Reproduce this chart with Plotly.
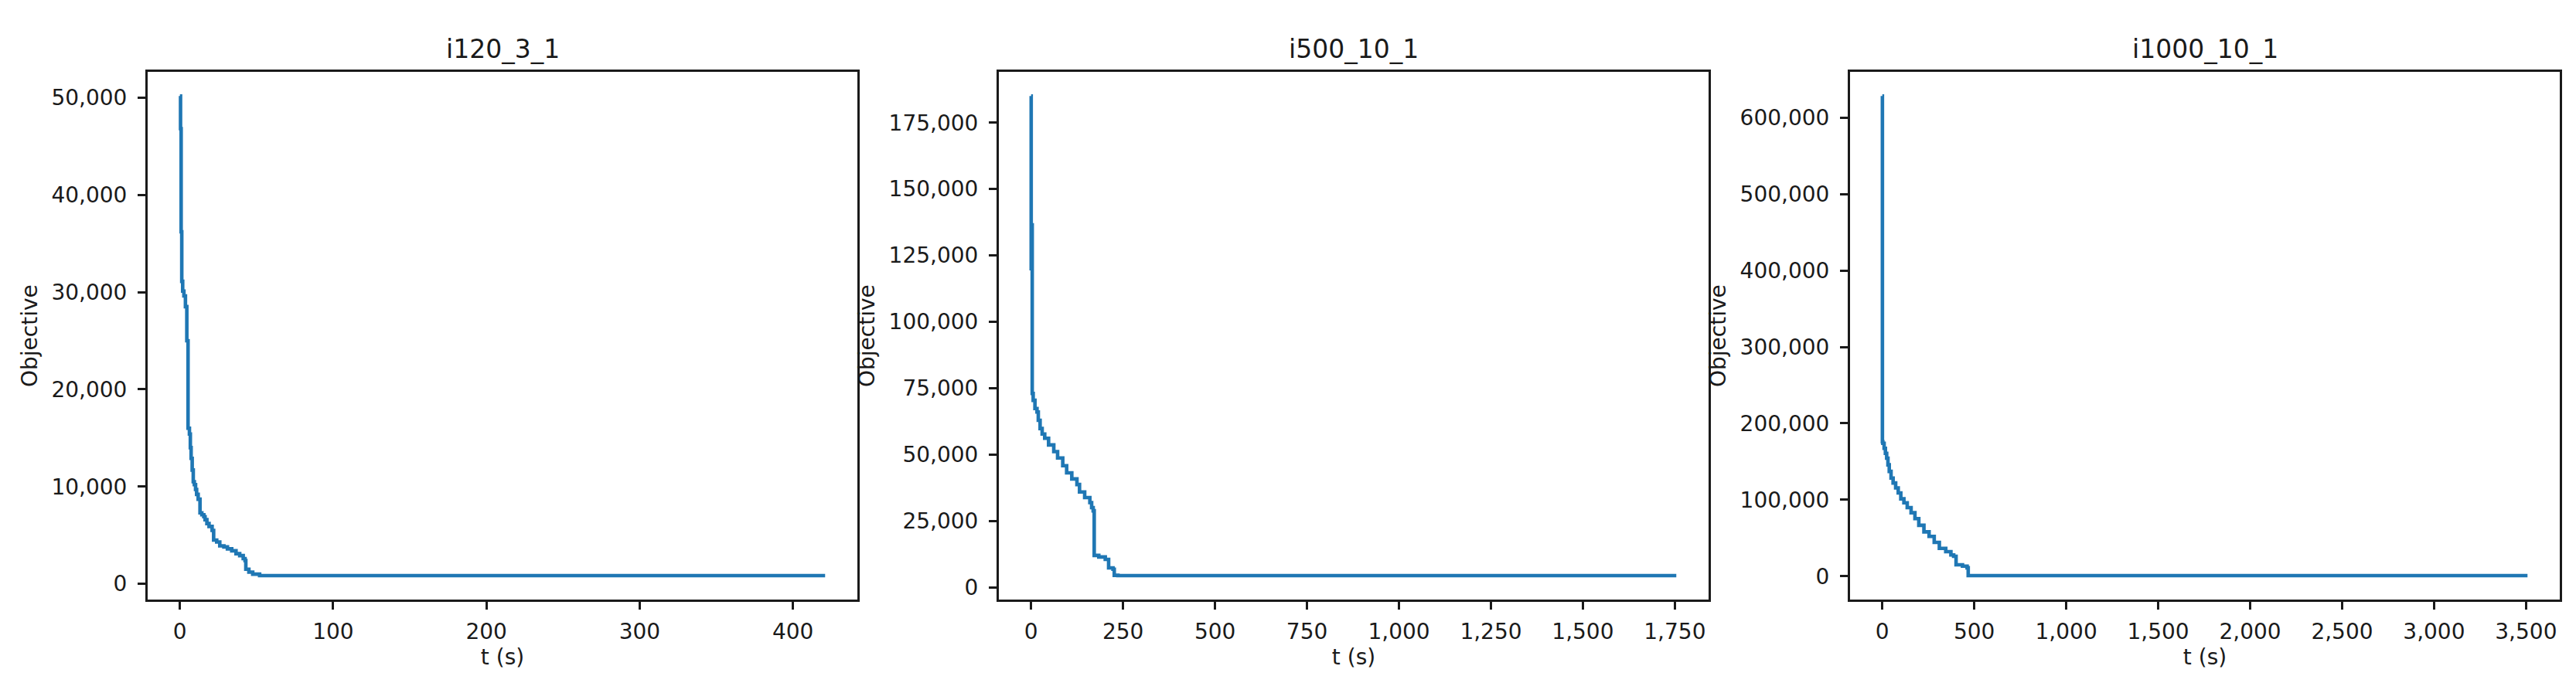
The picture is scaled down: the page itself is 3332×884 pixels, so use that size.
import plotly.graph_objects as go

# i120_3_1: time (s) at which the objective improves, and the new value
t_i120 = [0, 0.4, 0.8, 1.2, 1.8, 2.6, 3.6, 4.5, 5.3, 6.2, 6.8, 7.3, 8.0, 8.7, 9.4,
          10.2, 10.9, 11.9, 13.1, 14.3, 15.6, 16.4, 17.6, 19.0, 21.0, 22.0, 24.0,
          26.0, 28.7, 31.0, 33.8, 36.6, 39.0, 41.3, 42.5, 43.0, 45.0, 47.5, 52.0, 421]
obj_i120 = [50150, 46800, 36200, 31100, 30100, 29600, 28500, 25000, 16000, 15400,
            14000, 12900, 11700, 10500, 10200, 9700, 9200, 8700, 7300, 7100, 6900,
            6600, 6200, 5900, 5500, 4500, 4300, 3900, 3800, 3600, 3400, 3100, 2900,
            2600, 2400, 1500, 1200, 1000, 850, 850]

# i500_10_1
t_i500 = [0, 0.2, 2.5, 3, 5.6, 10.4, 16, 19.5, 24.4, 30, 37, 47.5, 61.6, 72, 86,
          96.6, 110.6, 124.6, 131.6, 145.6, 159.7, 164.5, 168.7, 171.5, 184, 201.6,
          210.7, 222.6, 226, 236, 1754]
obj_i500 = [185000, 120000, 136500, 73000, 70400, 67300, 66000, 62900, 59800, 57700,
            56100, 53600, 51100, 48700, 45800, 43100, 40800, 38700, 35900, 33800,
            31900, 30000, 28800, 12000, 11400, 10500, 7300, 6800, 4500, 4400, 4400]

# i1000_10_1
t_i1000 = [0, 0.5, 2.8, 9.8, 16.8, 23.7, 30.7, 37.7, 47.5, 58.7, 72.6, 86.6, 100.6,
           117.4, 135.5, 156.5, 177.4, 198.4, 226.3, 254.3, 282.2, 310.1, 345, 373,
           388, 401, 436, 461, 467, 3508]
obj_i1000 = [628000, 176000, 173900, 167400, 160900, 154500, 145800, 137200, 128500,
             122100, 115600, 109100, 101400, 96200, 89800, 83200, 75500, 66800, 58200,
             52200, 44400, 36600, 32300, 28000, 26200, 15100, 13300, 11200, 1000, 1000]

instances = ["i120_3_1", "i500_10_1", "i1000_10_1"]
x_dticks = [100, 250, 500]
y_dticks = [10000, 25000, 100000]
series = [(t_i120, obj_i120), (t_i500, obj_i500), (t_i1000, obj_i1000)]

W, H = 3332, 884
x_domains = [[183 / W, 1101 / W], [1284 / W, 2202 / W], [2385 / W, 3303 / W]]
y_domain = [1 - 768 / H, 1 - 85.3 / H]

FONT = "DejaVu Sans"
INK = "#1a1a1a"


def padded(vals):
    lo, hi = min(vals), max(vals)
    pad = 0.05 * (hi - lo)
    return [lo - pad, hi + pad]


fig = go.Figure()
annotations = []

for i, (name, (t, obj)) in enumerate(zip(instances, series)):
    n = "" if i == 0 else str(i + 1)
    fig.add_trace(
        go.Scatter(
            x=t,
            y=obj,
            mode="lines",
            line=dict(color="#1f77b4", width=4.6, shape="hv"),
            xaxis="x" + n,
            yaxis="y" + n,
            showlegend=False,
        )
    )
    axis_common = dict(
        showline=True,
        mirror=True,
        linecolor=INK,
        linewidth=3,
        ticks="outside",
        ticklen=10,
        tickwidth=2.6,
        tickcolor=INK,
        showgrid=False,
        zeroline=False,
        tickformat=",d",
        tickfont=dict(family=FONT, size=28, color=INK),
    )
    fig.update_layout({
        "xaxis" + n: dict(
            axis_common,
            domain=x_domains[i],
            anchor="y" + n,
            range=padded(t),
            tick0=0,
            dtick=x_dticks[i],
            ticklabelstandoff=4,
            title=dict(text="t (s)", font=dict(family=FONT, size=28, color=INK),
                       standoff=6),
        ),
        "yaxis" + n: dict(
            axis_common,
            domain=y_domain,
            anchor="x" + n,
            range=padded(obj),
            tick0=0,
            dtick=y_dticks[i],
            ticklabelstandoff=8,
            title=dict(text="Objective", font=dict(family=FONT, size=28, color=INK),
                       standoff=10),
        ),
    })
    annotations.append(dict(
        text=name,
        x=sum(x_domains[i]) / 2,
        y=y_domain[1],
        xref="paper",
        yref="paper",
        xanchor="center",
        yanchor="bottom",
        yshift=8,
        showarrow=False,
        font=dict(family=FONT, size=33, color=INK),
    ))

fig.update_layout(
    width=W,
    height=H,
    margin=dict(l=0, r=0, t=0, b=0),
    paper_bgcolor="white",
    plot_bgcolor="white",
    annotations=annotations,
)

fig.write_html("out.html")
